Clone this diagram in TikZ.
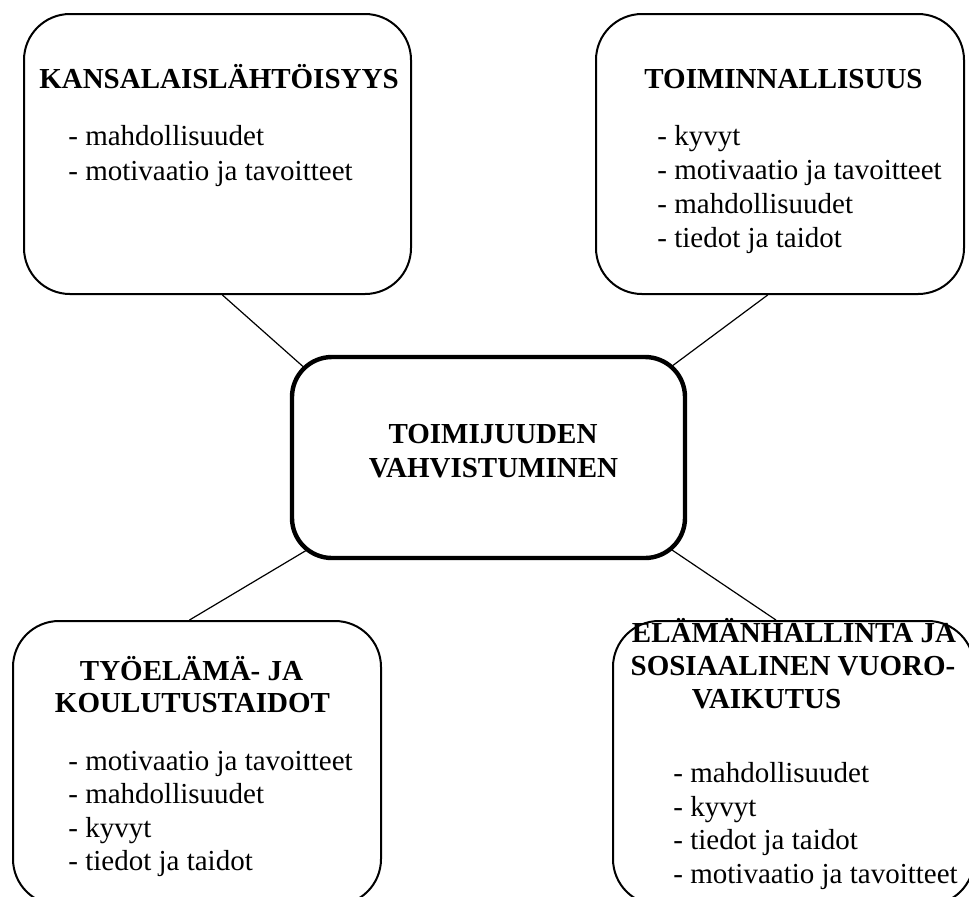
\documentclass[tikz,border=0pt]{standalone}
\usepackage{fontspec}
\setmainfont{Liberation Serif}
\usetikzlibrary{backgrounds}
\begin{document}
\begin{tikzpicture}[x=0.5pt,y=-0.5pt,
  box/.style={draw, line width=1pt, rounded corners=23pt, inner sep=0pt},
  hub/.style={draw, line width=2.2pt, rounded corners=20pt, fill=white, inner sep=0pt},
  link/.style={line width=0.6pt, shorten >=-14pt},
  ttl/.style={font=\fontsize{14.5}{16.5}\selectfont\bfseries, inner sep=0pt, anchor=base},
  itm/.style={font=\fontsize{14.5}{17}\selectfont, inner sep=0pt, anchor=base west}]
\useasboundingbox (0,0) rectangle (969,896);
\clip (0,0) rectangle (969,896);

% boxes
\node[box, minimum width=193.5pt, minimum height=140pt] (b1) at (217.5,154) {};
\node[box, minimum width=184pt, minimum height=140pt] (b2) at (780,154) {};
\node[box, minimum width=184pt, minimum height=142pt] (b3) at (197,763) {};
\node[box, minimum width=180.5pt, minimum height=142pt] (b4) at (793.5,763) {};
\node[hub, minimum width=196.5pt, minimum height=100.5pt] (c) at (488.5,457.5) {};

% connectors
\begin{scope}[on background layer]
\draw[link] (b1.-88) -- (c.north west);
\draw[link] (b2.-95) -- (c.north east);
\draw[link] (b3.93) -- (c.south west);
\draw[link] (b4.97) -- (c.south east);
\end{scope}

% center text
\node[ttl] (c1) at (493,443) {TOIMIJUUDEN};
\node[ttl] (c2) at (493.5,477) {VAHVISTUMINEN};

% box 1
\node[ttl] (t1) at (219,88) {KANSALAISLÄHTÖISYYS};
\node[itm] (t1a) at (68,145) {- mahdollisuudet};
\node[itm] (t1b) at (68,180) {- motivaatio ja tavoitteet};

% box 2
\node[ttl] (t2) at (783.5,88) {TOIMINNALLISUUS};
\node[itm] (t2a) at (657,145) {- kyvyt};
\node[itm] (t2b) at (657,179) {- motivaatio ja tavoitteet};
\node[itm] (t2c) at (657,213) {- mahdollisuudet};
\node[itm] (t2d) at (657,247) {- tiedot ja taidot};

% box 3
\node[ttl] (t3a) at (191.5,680) {TYÖELÄMÄ- JA};
\node[ttl] (t3b) at (192.5,712) {KOULUTUSTAIDOT};
\node[itm] (t3c) at (68,770) {- motivaatio ja tavoitteet};
\node[itm] (t3d) at (68,803) {- mahdollisuudet};
\node[itm] (t3e) at (68,837) {- kyvyt};
\node[itm] (t3f) at (68,870) {- tiedot ja taidot};

% box 4
\node[ttl] (t4a) at (794,642) {ELÄMÄNHALLINTA JA};
\node[ttl] (t4b) at (793,675) {SOSIAALINEN VUORO-};
\node[ttl] (t4c) at (766.5,708) {VAIKUTUS};
\node[itm] (t4d) at (673,782) {- mahdollisuudet};
\node[itm] (t4e) at (673,816) {- kyvyt};
\node[itm] (t4f) at (673,849) {- tiedot ja taidot};
\node[itm] (t4g) at (673,883) {- motivaatio ja tavoitteet};
\end{tikzpicture}
\end{document}
